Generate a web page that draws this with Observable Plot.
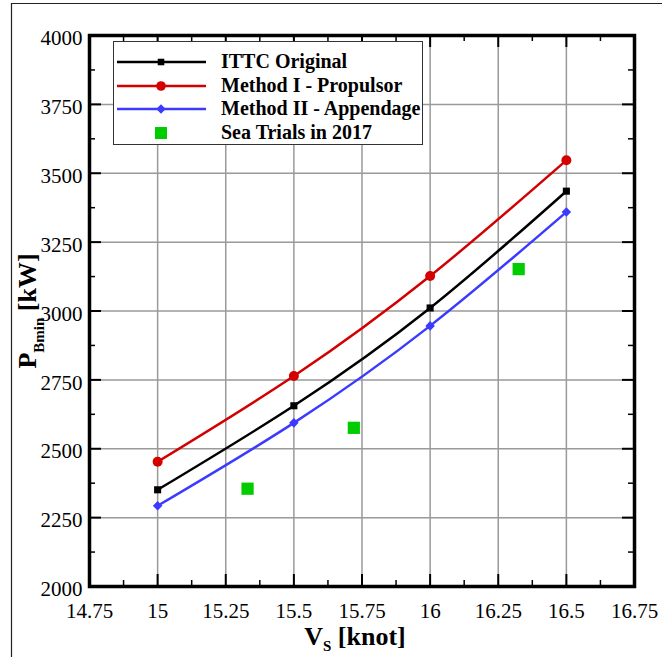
<!DOCTYPE html>
<html>
<head>
<meta charset="utf-8">
<script src="https://cdn.jsdelivr.net/npm/d3@7"></script>
<script src="https://cdn.jsdelivr.net/npm/@observablehq/plot@0.6"></script>
<style>
  html, body { margin: 0; padding: 0; background: #fff; }
  #chart { position: relative; width: 662px; height: 657px; }
  #chart svg, #chart svg text { font-family: "Liberation Serif", "DejaVu Serif", serif !important; }
</style>
</head>
<body>
<div id="chart"></div>
<script>
// ---- data ----
const speeds = [15, 15.5, 16, 16.5];
const ittcOriginal = [2351, 2656, 3011, 3435];
const methodIPropulsor = [2453, 2764, 3127, 3547];
const methodIIAppendage = [2293, 2594, 2946, 3359];
const trialSpeeds = [15.33, 15.72, 16.325];
const trialPower = [2355, 2576, 3152];

const xTicks = [14.75, 15, 15.25, 15.5, 15.75, 16, 16.25, 16.5, 16.75];
const xTickLabels = ["14.75", "15", "15.25", "15.5", "15.75", "16", "16.25", "16.5", "16.75"];
const xMinor = [14.875, 15.125, 15.375, 15.625, 15.875, 16.125, 16.375, 16.625];
const yTicks = [2000, 2250, 2500, 2750, 3000, 3250, 3500, 3750, 4000];
const yTickLabels = ["2000", "2250", "2500", "2750", "3000", "3250", "3500", "3750", "4000"];
const yMinor = [2125, 2375, 2625, 2875, 3125, 3375, 3625, 3875];

const seriesNames = ["ITTC Original", "Method I - Propulsor", "Method II - Appendage", "Sea Trials in 2017"];
const colors = ["#000000", "#d40000", "#3b3bff", "#00cc00"];

// build tables
const ittc = speeds.map((s, i) => ({x: s, y: ittcOriginal[i]}));
const m1 = speeds.map((s, i) => ({x: s, y: methodIPropulsor[i]}));
const m2 = speeds.map((s, i) => ({x: s, y: methodIIAppendage[i]}));
const trials = trialSpeeds.map((s, i) => ({x: s, y: trialPower[i]}));

const font = '"Liberation Serif", "DejaVu Serif", serif';

const W = 662, H = 657, ML = 89, MR = 28, MT = 35, MB = 71;
const PW = W - ML - MR, PH = H - MT - MB;
const major = 12, minor = 6;

const plot = Plot.plot({
  width: W,
  height: H,
  marginLeft: ML,
  marginRight: MR,
  marginTop: MT,
  marginBottom: MB,
  style: {fontFamily: font, fontSize: "21px", background: "white", color: "black"},
  x: {domain: [14.75, 16.75], label: null},
  y: {domain: [2000, 4000], label: null},
  marks: [
    Plot.gridX(xTicks, {stroke: "#9a9a9a", strokeOpacity: 1, strokeWidth: 1.5}),
    Plot.gridY(yTicks, {stroke: "#9a9a9a", strokeOpacity: 1, strokeWidth: 1.5}),
    // tick labels
    Plot.axisX(xTicks, {anchor: "bottom", tickSize: 0, tickPadding: 17, tickFormat: (d) => xTickLabels[xTicks.indexOf(d)], fontSize: 21, fontFamily: font}),
    Plot.axisY(yTicks, {anchor: "left", tickSize: 0, tickPadding: 7, dy: 3, tickFormat: (d) => yTickLabels[yTicks.indexOf(d)], fontSize: 21, fontFamily: font}),
    // inward major ticks
    Plot.tickX(xTicks, {x: d => d, stroke: "black", strokeWidth: 2, insetTop: PH - major}),
    Plot.tickX(xTicks, {x: d => d, stroke: "black", strokeWidth: 2, insetBottom: PH - major}),
    Plot.tickY(yTicks, {y: d => d, stroke: "black", strokeWidth: 2, insetRight: PW - major}),
    Plot.tickY(yTicks, {y: d => d, stroke: "black", strokeWidth: 2, insetLeft: PW - major}),
    // inward minor ticks
    Plot.tickX(xMinor, {x: d => d, stroke: "black", strokeWidth: 1.5, insetTop: PH - minor}),
    Plot.tickX(xMinor, {x: d => d, stroke: "black", strokeWidth: 1.5, insetBottom: PH - minor}),
    Plot.tickY(yMinor, {y: d => d, stroke: "black", strokeWidth: 1.5, insetRight: PW - minor}),
    Plot.tickY(yMinor, {y: d => d, stroke: "black", strokeWidth: 1.5, insetLeft: PW - minor}),
    // curves
    Plot.line(m1, {x: "x", y: "y", stroke: colors[1], strokeWidth: 2.5, curve: "natural"}),
    Plot.line(ittc, {x: "x", y: "y", stroke: colors[0], strokeWidth: 2.5, curve: "natural"}),
    Plot.line(m2, {x: "x", y: "y", stroke: colors[2], strokeWidth: 2.5, curve: "natural"}),
    Plot.dot(m1, {x: "x", y: "y", fill: colors[1], r: 5, symbol: "circle"}),
    Plot.dot(ittc, {x: "x", y: "y", fill: colors[0], r: 4, symbol: "square"}),
    Plot.dot(m2, {x: "x", y: "y", fill: colors[2], r: 4.3, symbol: "diamond2"}),
    Plot.dot(trials, {x: "x", y: "y", fill: colors[3], r: 6.9, symbol: "square"}),
    Plot.frame({stroke: "black", strokeWidth: 3.5})
  ]
});

document.getElementById("chart").appendChild(plot);

const svg = d3.select(plot);
svg.selectAll("text").style("font-family", font);

// outer border (top and left edges visible)
svg.append("path").attr("d", "M11.5,657 L11.5,3.5 L662,3.5").attr("fill", "none").attr("stroke", "#222").attr("stroke-width", 1.2);

// axis titles
const xt = svg.append("text").attr("x", 355).attr("y", 645).attr("text-anchor", "middle")
  .style("font-family", font).style("font-weight", "bold").style("font-size", "26px");
xt.append("tspan").text("V");
xt.append("tspan").attr("dy", 6).style("font-size", "15px").text("S");
xt.append("tspan").attr("dy", -6).text(" [knot]");

const yt = svg.append("text").attr("transform", "translate(36,311) rotate(-90)").attr("text-anchor", "middle")
  .style("font-family", font).style("font-weight", "bold").style("font-size", "26px");
yt.append("tspan").text("P");
yt.append("tspan").attr("dy", 8).style("font-size", "15px").text("Bmin");
yt.append("tspan").attr("dy", -8).text(" [kW]");

// legend
const lg = svg.append("g");
lg.append("rect").attr("x", 113.5).attr("y", 41.5).attr("width", 309).attr("height", 103)
  .attr("fill", "white").attr("stroke", "#333").attr("stroke-width", 1);
const rowY = [62, 86, 109, 133];
const sym = [d3.symbolSquare, d3.symbolCircle, d3.symbolDiamond2, d3.symbolSquare];
const symSize = [Math.PI * 3.7 * 3.7, Math.PI * 4.8 * 4.8, Math.PI * 4.3 * 4.3, Math.PI * 6.8 * 6.8];
seriesNames.forEach((name, i) => {
  if (i < 3) {
    lg.append("line").attr("x1", 117).attr("x2", 206).attr("y1", rowY[i]).attr("y2", rowY[i])
      .attr("stroke", colors[i]).attr("stroke-width", 2.5);
  }
  lg.append("path").attr("d", d3.symbol(sym[i], symSize[i])()).attr("transform", `translate(161,${rowY[i]})`)
    .attr("fill", colors[i]);
  lg.append("text").attr("x", 221).attr("y", rowY[i] + 6).attr("text-anchor", "start").text(name)
    .style("font-family", font).style("font-weight", "bold").style("font-size", "20px");
});
</script>
</body>
</html>
